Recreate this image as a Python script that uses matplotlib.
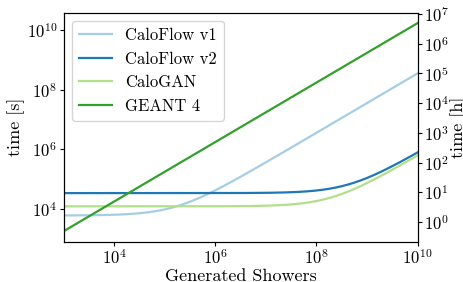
import numpy as np
import matplotlib
matplotlib.use("Agg")
import matplotlib.pyplot as plt

plt.rcParams['font.family'] = 'serif'
plt.rcParams['font.serif'] = ['cmr10']
plt.rcParams['mathtext.fontset'] = 'cm'
plt.rcParams['axes.formatter.use_mathtext'] = True
plt.rcParams['axes.unicode_minus'] = False

# setup time and time per shower for each generator
models = ["CaloFlow v1", "CaloFlow v2", "CaloGAN", "GEANT 4"]
setup_s = [6000.0, 34000.0, 12200.0, 0.0]
per_shower_s = [0.0362, 7.6e-5, 6.2e-5, 1.772]
colors = ["#a6cee3", "#1f78b4", "#b2df8a", "#33a02c"]

showers = np.logspace(3, 10, 400)

fig = plt.figure(figsize=(4.64, 2.82), dpi=100)
ax = fig.add_axes([0.137, 0.143, 0.763, 0.812])

for name, s0, rate, c in zip(models, setup_s, per_shower_s, colors):
    ax.plot(showers, s0 + rate * showers, color=c, lw=1.6, label=name)

ax.set_xscale('log')
ax.set_yscale('log')
ax.set_xlim(1e3, 1e10)
ax.minorticks_off()
ax.set_xticks([1e4, 1e6, 1e8, 1e10])
ax.set_yticks([1e4, 1e6, 1e8, 1e10])
ylo, yhi = ax.get_ylim()
ax.set_ylim(ylo, yhi)
ax.set_xlabel("Generated Showers", fontsize=13, labelpad=1)
ax.set_ylabel("time [s]", fontsize=13, labelpad=1)
ax.tick_params(labelsize=12, length=2.6, pad=2)
ax.legend(loc='upper left', fontsize=12, handlelength=2.0, borderaxespad=0.5)

ax2 = ax.twinx()
ax2.set_yscale('log')
ax2.set_ylim(ylo / 3600, yhi / 3600)
ax2.minorticks_off()
ax2.set_yticks([10.0**k for k in range(0, 8)])
ax2.set_ylabel("time [h]", fontsize=13, labelpad=1)
ax2.tick_params(labelsize=12, length=2.6, pad=2)

fig.savefig("out.png", dpi=100)
